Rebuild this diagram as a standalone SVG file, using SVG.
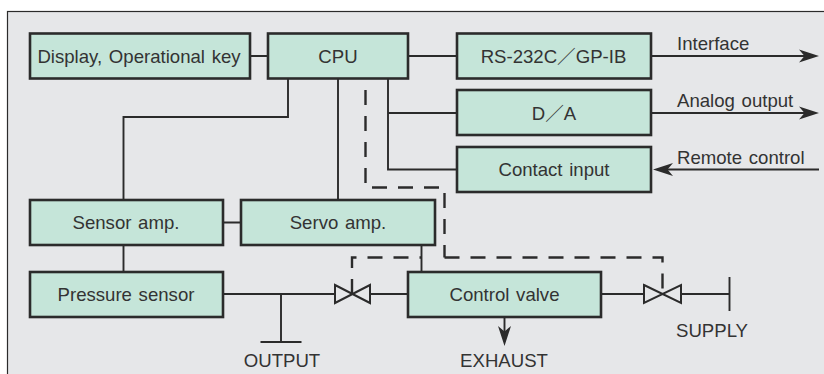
<svg xmlns="http://www.w3.org/2000/svg" width="824" height="374" viewBox="0 0 824 374">
<style>
.n{fill:#c5e5d9;stroke:#2b2b2b;stroke-width:2.6}
.c{fill:none;stroke:#2b2b2b;stroke-width:1.9}
.d{fill:none;stroke:#2b2b2b;stroke-width:2.4;stroke-dasharray:15 11}
.v{fill:none;stroke:#2b2b2b;stroke-width:2}
.h{fill:#2b2b2b;stroke:none}
text{font-family:"Liberation Sans","Noto Sans CJK JP",sans-serif;font-size:18.6px;word-spacing:1.5px;fill:#333;text-anchor:middle}
.l{text-anchor:start}
</style>
<defs>
<path id="ar" class="h" d="M0 0L-20-6.500L-14.500 0L-20 6.500Z"/>
</defs>
<rect x="7.500" y="11.500" width="830" height="370" fill="#e6e7e9" stroke="#2b2b2b" stroke-width="1.2"/>
<g id="connectors">
<path class="c" d="M250 56H268M408 56H457M288 79V117H123.500V200M338 79V200M388 79V169.500H457M388 113H457M651 56H805M651 113H805M819 169.500H665M223 222.500H241M123.500 245V272M421.500 245V272M223 294H335M370 294H408M281 294V342M260.500 342H301.500M601 294H644M681 294H729.500M729.500 277V311M504.500 317V335"/>
<path class="d" d="M365.500 90V187.500H444.500V257.500"/>
<path class="d" d="M352 294V257.500H421"/>
<path class="d" d="M444.500 257.500H662.500V294"/>
<use href="#ar" transform="translate(819 56)"/>
<use href="#ar" transform="translate(819 113)"/>
<use href="#ar" transform="translate(653 169.500) rotate(180)"/>
<use href="#ar" transform="translate(504.500 346) rotate(90)"/>
</g>
<g id="valve1"><path class="v" d="M335 285L370 303V285L335 303Z"/></g>
<g id="valve2"><path class="v" d="M644 285L681 303V285L644 303Z"/></g>
<g id="display"><rect class="n" x="30" y="33.500" width="220" height="45"/><text x="139" y="63">Display, Operational key</text></g>
<g id="cpu"><rect class="n" x="268" y="33.500" width="140" height="45"/><text x="338" y="63">CPU</text></g>
<g id="rs232"><rect class="n" x="457" y="33.500" width="194" height="45"/><text x="553.500" y="63">RS-232C／GP-IB</text></g>
<g id="da"><rect class="n" x="457" y="90" width="194" height="45"/><text x="554" y="120">D／A</text></g>
<g id="contact"><rect class="n" x="457" y="147" width="194" height="45"/><text x="554" y="176">Contact input</text></g>
<g id="sensoramp"><rect class="n" x="30" y="200" width="193" height="45"/><text x="126" y="229">Sensor amp.</text></g>
<g id="servoamp"><rect class="n" x="241" y="200" width="194" height="45"/><text x="338" y="229">Servo amp.</text></g>
<g id="pressure"><rect class="n" x="30" y="272" width="193" height="45"/><text x="126" y="301">Pressure sensor</text></g>
<g id="controlvalve"><rect class="n" x="408" y="272" width="193" height="45"/><text x="504.500" y="301">Control valve</text></g>
<g id="labels">
<text class="l" x="677" y="50">Interface</text>
<text class="l" x="677" y="107">Analog output</text>
<text class="l" x="677" y="164">Remote control</text>
<text x="282" y="367">OUTPUT</text>
<text x="504" y="367">EXHAUST</text>
<text x="712" y="337">SUPPLY</text>
</g>
</svg>
